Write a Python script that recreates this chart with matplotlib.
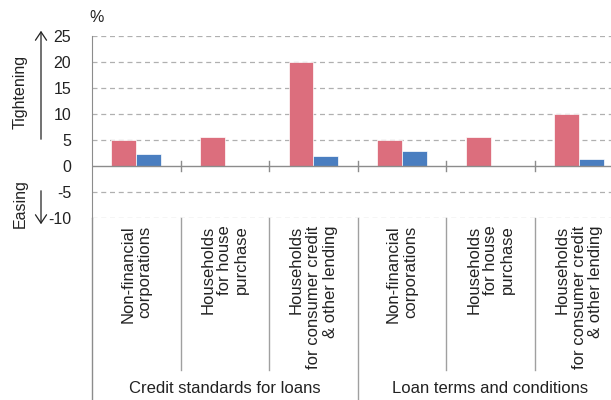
import numpy as np
import matplotlib as mpl
import matplotlib.pyplot as plt

mpl.rcParams['font.family'] = ['Liberation Sans', 'DejaVu Sans']

categories = ['Non-financial\ncorporations',
              'Households\nfor house\npurchase',
              'Households\nfor consumer credit\n& other lending',
              'Non-financial\ncorporations',
              'Households\nfor house\npurchase',
              'Households\nfor consumer credit\n& other lending']
groups = ['Credit standards for loans', 'Loan terms and conditions']
red_vals = [5.0, 5.5, 20.0, 5.0, 5.5, 10.0]
blue_vals = [2.4, 0.0, 1.9, 2.8, 0.0, 1.4]
yticks = [25, 20, 15, 10, 5, 0, -5, -10]

red = '#DC6E7D'
blue = '#4A7EC0'
grey = '#8c8c8c'

fig = plt.figure(figsize=(6.11, 4.0), dpi=100)
ax = fig.add_axes([92/611, 182/400, 519/611, 182/400])

x = np.arange(len(categories))
w = 0.28
ax.bar(x - w/2, red_vals, w, color=red, edgecolor='white', linewidth=0.5, zorder=3)
ax.bar(x + w/2, blue_vals, w, color=blue, edgecolor='white', linewidth=0.5, zorder=3)

ax.set_ylim(-10, 25)
ax.set_xlim(-0.5, 5.36)
ax.set_yticks(yticks)
ax.set_yticklabels([str(v) for v in yticks], fontsize=11.5, color='#222222')
ax.tick_params(axis='y', length=0, pad=15)
ax.set_xticks([])

for v in yticks:
    if v == 0:
        ax.axhline(0, color=grey, lw=1.0, zorder=4)
    else:
        ax.axhline(v, color='#b0b0b0', lw=0.9, ls=(0, (4, 3)), zorder=1)

for s in ['top', 'right', 'bottom']:
    ax.spines[s].set_visible(False)
ax.spines['left'].set_color(grey)

tr = ax.get_xaxis_transform()
# left spine goes on down past the labels
ax.plot([-0.5, -0.5], [0, -1.0], color=grey, lw=1.0, transform=tr, clip_on=False)
for sx in [0.5, 1.5, 2.5, 3.5, 4.5]:
    ax.plot([sx, sx], [-1, 1], color=grey, lw=1.0, zorder=4)
    bottom = -1.0 if sx == 2.5 else -0.835
    ax.plot([sx, sx], [0, bottom], color='#a0a0a0', lw=1.0, transform=tr, clip_on=False)

for i, lab in enumerate(categories):
    ax.text(i, -0.04, lab, rotation=90, va='top', ha='center', multialignment='right',
            fontsize=12, color='#222222', transform=tr, linespacing=1.15)

ax.text(1.0, -0.935, groups[0], ha='center', va='center', fontsize=12,
        color='#222222', transform=tr)
ax.text(4.0, -0.935, groups[1], ha='center', va='center', fontsize=12,
        color='#222222', transform=tr)

fig.text(97/611, 1 - 18/400, '%', ha='center', va='center', fontsize=11.5, color='#222222')
fig.text(20/611, 1 - 92/400, 'Tightening', rotation=90, ha='center', va='center',
         fontsize=11.5, color='#222222')
fig.text(20/611, 1 - 204/400, 'Easing', rotation=90, ha='center', va='center',
         fontsize=11.5, color='#222222')
fig.add_artist(mpl.patches.FancyArrowPatch((41/611, 1 - 142/400), (41/611, 1 - 28/400),
               transform=fig.transFigure, arrowstyle='->,head_length=6,head_width=4',
               color='#222222', lw=0.9))
fig.add_artist(mpl.patches.FancyArrowPatch((41/611, 1 - 188/400), (41/611, 1 - 227/400),
               transform=fig.transFigure, arrowstyle='->,head_length=6,head_width=4',
               color='#222222', lw=0.9))

fig.savefig('out.png', dpi=100)
